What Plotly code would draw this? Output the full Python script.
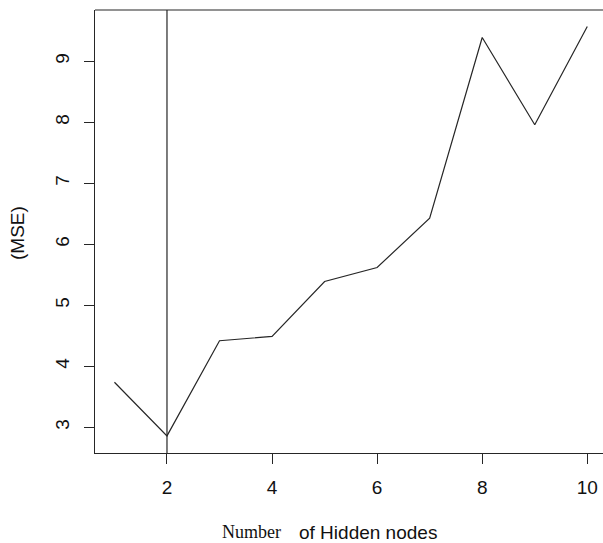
import plotly.graph_objects as go

# Mean squared error by number of hidden nodes
hidden_nodes = [1, 2, 3, 4, 5, 6, 7, 8, 9, 10]
mse = [3.74, 2.86, 4.42, 4.49, 5.39, 5.62, 6.43, 9.39, 7.96, 9.57]
best_nodes = 2

x_ticks = [2, 4, 6, 8, 10]
y_ticks = [3, 4, 5, 6, 7, 8, 9]

W, H = 603, 543
L, R, T, B = 95, 0, 10, 90
pw, ph = W - L - R, H - T - B

ink = "#262626"
sans = "Liberation Sans, Arial, sans-serif"
serif = "Liberation Serif, Times New Roman, serif"

fig = go.Figure()
fig.add_trace(go.Scatter(
    x=hidden_nodes, y=mse, mode="lines",
    line=dict(color=ink, width=1.2), showlegend=False, hoverinfo="skip",
))

# vertical reference at the chosen node count
fig.add_shape(type="line", xref="x", yref="paper", x0=best_nodes, x1=best_nodes,
              y0=0, y1=1, line=dict(color=ink, width=1.2))
# top edge of the box
fig.add_shape(type="line", xref="paper", yref="paper", x0=0, x1=1.01, y0=1, y1=1,
              line=dict(color=ink, width=1.2))

def px_x(p):
    return (p - L) / pw

def px_y(p):
    return (H - B - p) / ph

fig.add_annotation(text="Number", xref="paper", yref="paper",
                   x=px_x(283), y=px_y(532), xanchor="right", yanchor="middle",
                   showarrow=False, font=dict(family=serif, size=18, color="#111"))
fig.add_annotation(text="of Hidden nodes", xref="paper", yref="paper",
                   x=px_x(297), y=px_y(532), xanchor="left", yanchor="middle",
                   showarrow=False, font=dict(family=sans, size=19, color="#111"))
fig.add_annotation(text="(MSE)", xref="paper", yref="paper",
                   x=px_x(17), y=px_y(233), xanchor="center", yanchor="middle",
                   textangle=-90, showarrow=False,
                   font=dict(family=sans, size=19, color="#111"))

axis_common = dict(
    showgrid=False, zeroline=False, showline=True, linecolor=ink, linewidth=1.2,
    ticks="outside", ticklen=10, tickwidth=1.2, tickcolor=ink,
    tickfont=dict(family=sans, size=19, color="#111"),
    ticklabelstandoff=7,
)

fig.update_xaxes(range=[0.63, 10.299], tickvals=x_ticks,
                 ticktext=[str(v) for v in x_ticks], **axis_common)
fig.update_yaxes(range=[2.58, 9.84], tickvals=y_ticks,
                 ticktext=[str(v) for v in y_ticks], tickangle=-90, **axis_common)

fig.update_layout(
    width=W, height=H,
    margin=dict(l=L, r=R, t=T, b=B, pad=0),
    plot_bgcolor="white", paper_bgcolor="white",
)

fig.write_html("out.html")
